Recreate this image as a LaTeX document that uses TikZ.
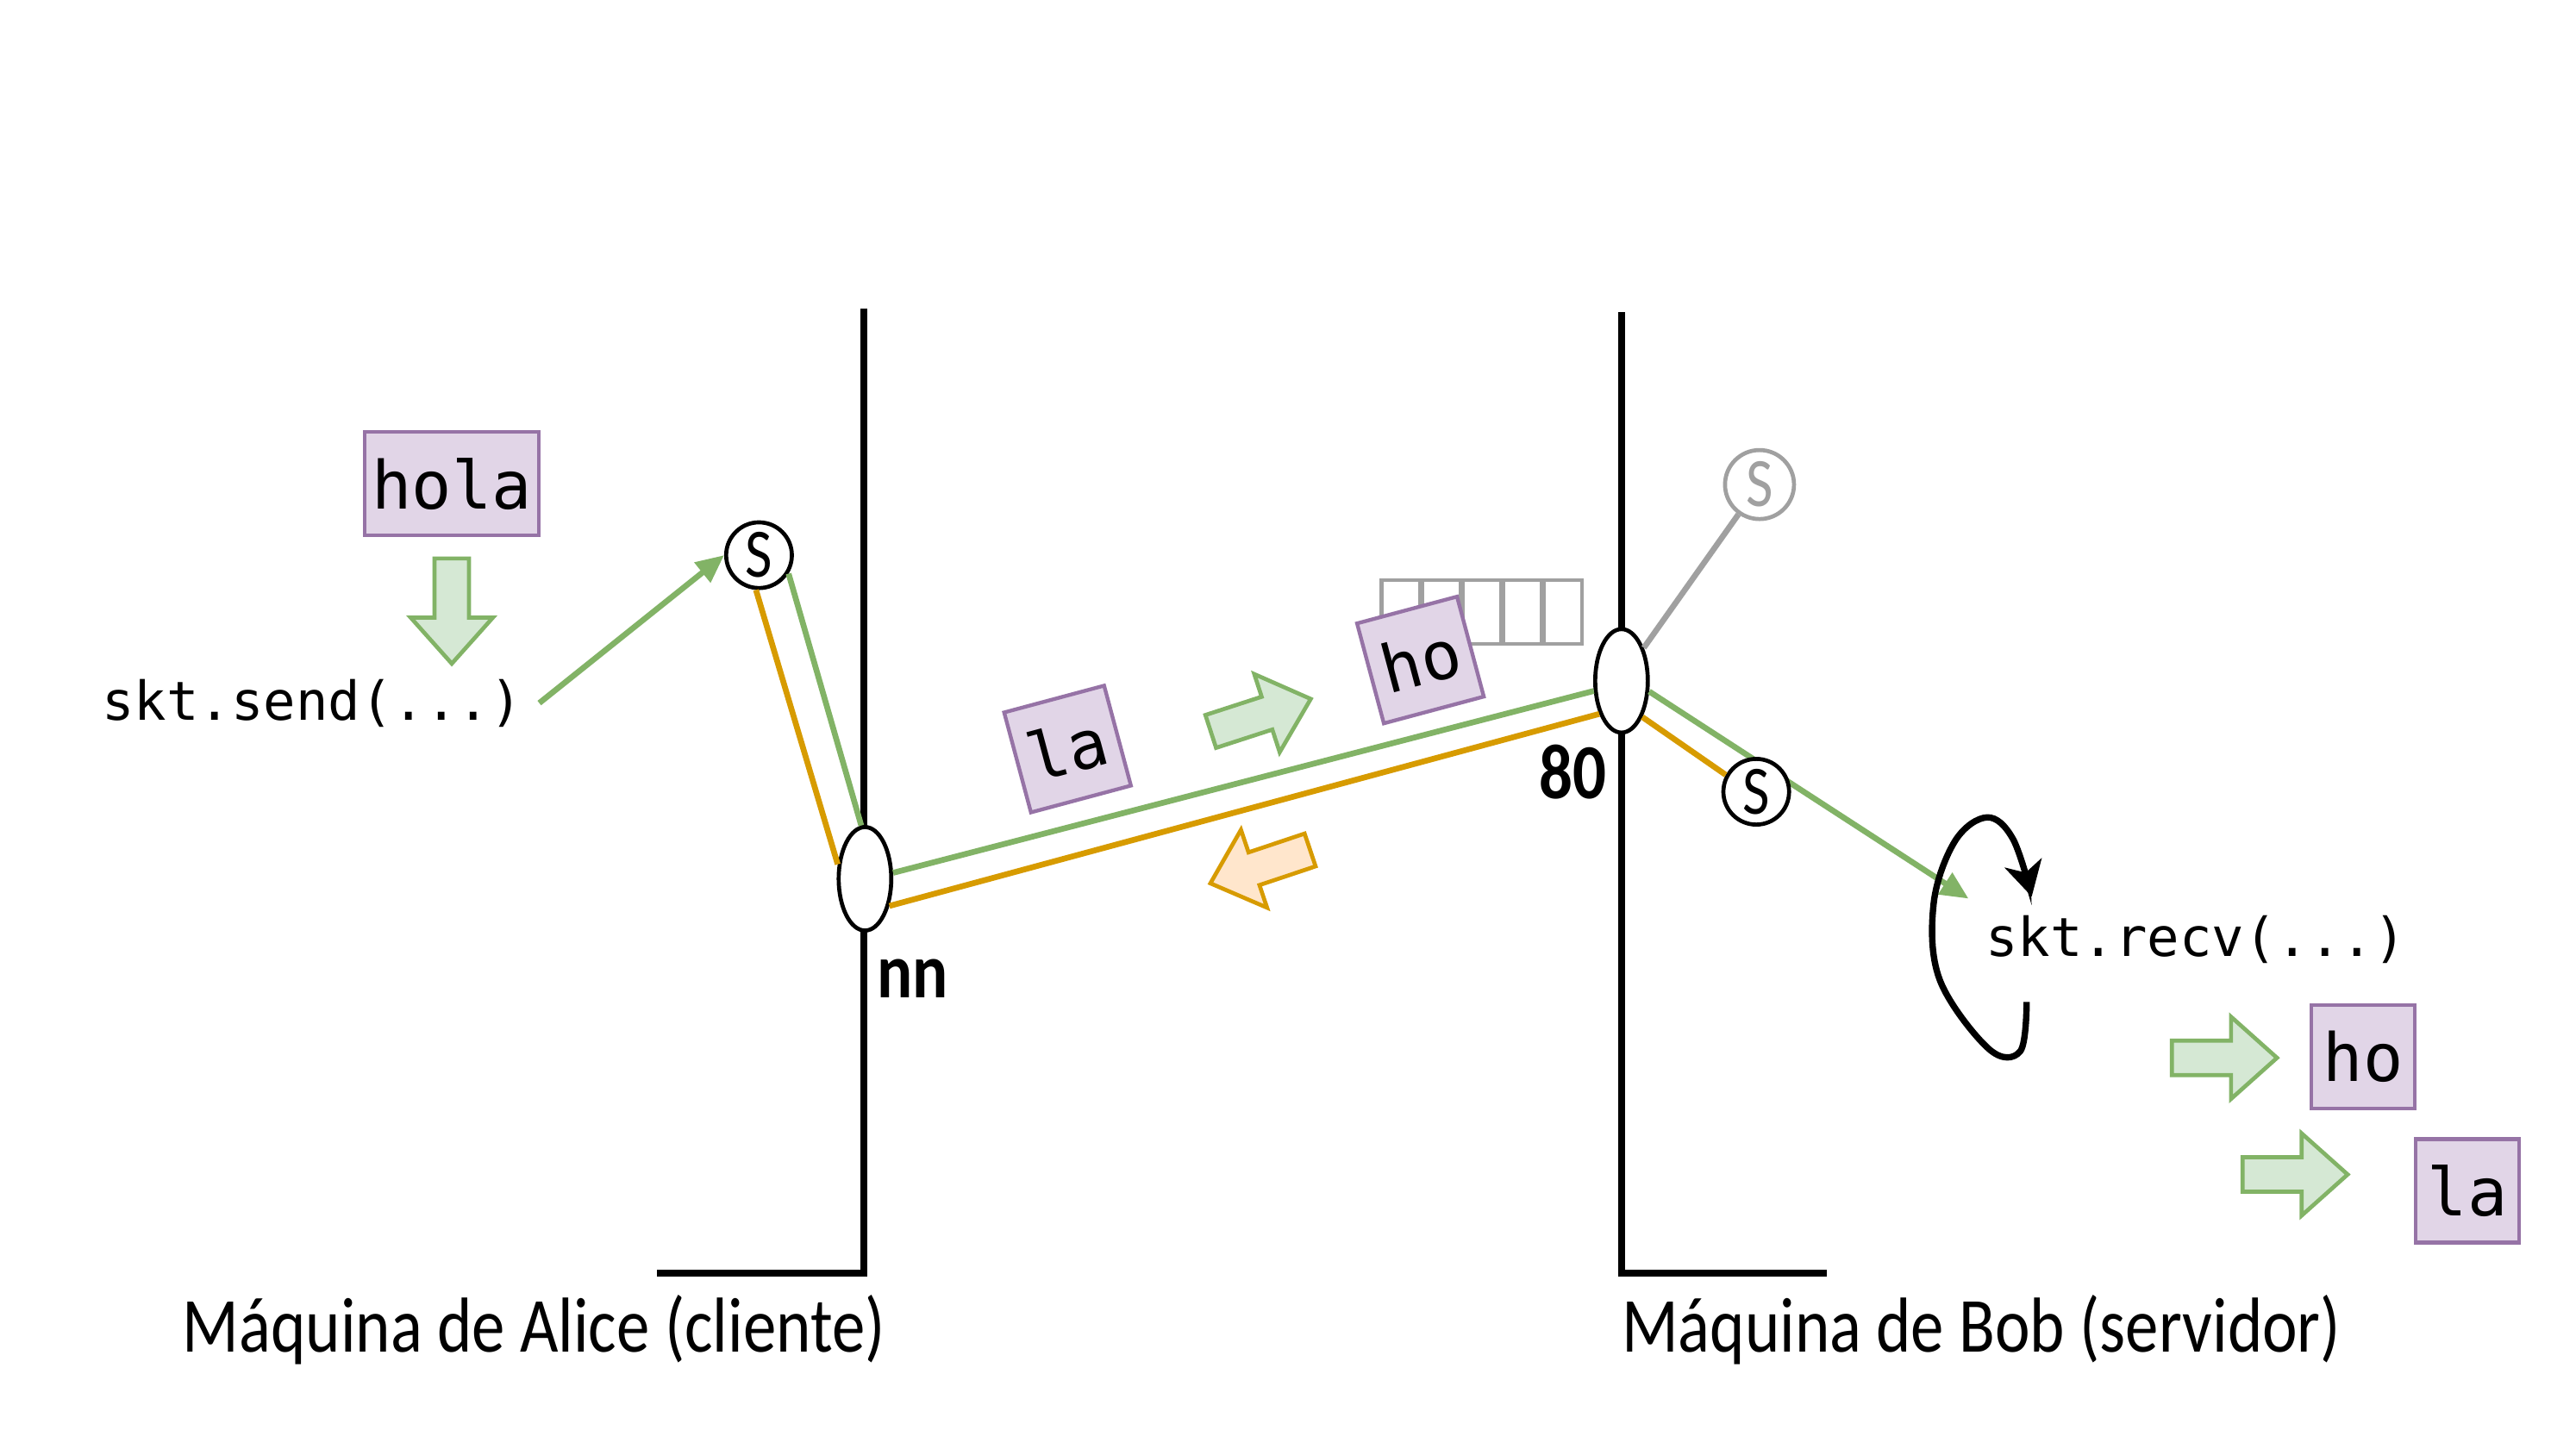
\documentclass[tikz,border=0pt]{standalone}
\usepackage{fontspec}
\usepackage{xcolor}
\usepackage{tikz}
\usetikzlibrary{arrows.meta,positioning,shapes.geometric}
\setmainfont{Carlito}
\newfontfamily\handfont[FakeStretch=0.85]{Carlito}
\newfontfamily\codefont{DejaVu Sans Mono}

\definecolor{sgreen}{HTML}{82B366}
\definecolor{fgreen}{HTML}{D5E8D4}
\definecolor{sorange}{HTML}{D79B00}
\definecolor{forange}{HTML}{FFE6CC}
\definecolor{spurple}{HTML}{9673A6}
\definecolor{fpurple}{HTML}{E1D5E7}
\definecolor{sgray}{HTML}{A0A0A0}

\begin{document}
\begin{tikzpicture}[
    x=0.2mm, y=-0.2mm,
    machine/.style={line width=2.4pt, line join=miter},
    caption/.style={font=\handfont\fontsize{27}{30}\selectfont, inner sep=0pt},
    port/.style={font=\handfont\bfseries\fontsize{27}{30}\selectfont, inner sep=0pt},
    code/.style={font=\codefont\fontsize{18.6}{22}\selectfont, inner sep=2mm},
    msg/.style={draw=spurple, fill=fpurple, line width=1.3pt, minimum width=12.6mm, minimum height=12.6mm, inner sep=0pt, font=\codefont\fontsize{23}{27}\selectfont},
    sock/.style={circle, draw, fill=white, line width=1.4pt, minimum size=8mm, inner sep=0pt, font=\handfont\fontsize{24}{26}\selectfont},
    hole/.style={ellipse, draw, fill=white, line width=1.4pt, minimum width=6.4mm, minimum height=12.6mm, inner sep=0pt},
    tofu/.style={draw=sgray, line width=1.3pt},
    gline/.style={draw=sgreen, line width=2pt},
    oline/.style={draw=sorange, line width=2pt},
    garrow/.style={gline, -{Triangle[length=3.4mm,width=3mm]}},
    garr/.style={draw=sgreen, fill=fgreen, line width=1.4pt, line join=miter},
    oarr/.style={draw=sorange, fill=forange, line width=1.4pt, line join=miter},
    blockarr/.pic={\draw[#1] (-32,-10.5) -- (4,-10.5) -- (4,-25) -- (32,0) -- (4,25) -- (4,10.5) -- (-32,10.5) -- cycle;},
]

\path[fill=white] (0,0) rectangle (1568,882);

% Machines
\draw[machine] (526,188) -- (526,775) -- (400,775);
\draw[machine] (987,190) -- (987,775) -- (1112,775);
\node[caption, anchor=base] (alice) at (325,823) {Máquina de Alice (cliente)};
\node[caption, anchor=base] (bob) at (1206,823) {Máquina de Bob (servidor)};

% Client side
\node[msg, minimum width=21.2mm] (hola) at (275,294.5) {hola};
\pic[rotate=-90] at (275,372) {blockarr=garr};
\node[code] (send) at (190,428) {skt.send(...)};
\node[sock] (s1) at (462,338) {S};
\node[hole] (cli) at (526.5,535) {};
\node[port, below right=3.2mm and 1.4mm of cli.south] (nn) {nn};

% Server side
\node[hole] (srv) at (987,414.5) {};
\node[port, below left=1.2mm and 1.8mm of srv.south] (p80) {80};
\node[sock, draw=sgray, text=sgray, minimum size=8.4mm] (sg) at (1071,295) {S};
\node[code] (recv) at (1336.5,572) {skt.recv(...)};

% Data on the wire
\foreach \i in {0,...,4}
    \draw[tofu] (841+24.66*\i,353) rectangle ++(23.2,39);
\node[msg, rotate=15] (la1) at (649.8,456) {la};
\node[msg, rotate=15] (ho1) at (864.6,401.8) {ho};
\pic[rotate=18] at (767.4,435.4) {blockarr=garr};
\pic[rotate=198.5] at (767.1,527.6) {blockarr=oarr};

% Received pieces
\pic at (1354,644) {blockarr=garr};
\node[msg] (ho2) at (1438.5,643.5) {ho};
\pic at (1397,715) {blockarr=garr};
\node[msg] (la2) at (1502,725) {la};

% Connections
\draw[garrow] (send.east) -- (s1.west);
\draw[oline] (s1.-95) -- (cli.152);
\draw[gline] (s1.-32) -- (cli.94);
\draw[gline] (cli.12) -- (srv.-160);
\draw[oline] (cli.-48) -- (srv.-124);
\draw[draw=sgray, line width=2pt] (srv.56) -- (sg);
\draw[garrow] (srv.-21) -- (recv.north west);
\node[sock] (s2) at (1069,482) {S};
\draw[oline] (srv.-60) -- (s2.151);

% recv loop
\draw[line width=2.2pt, -{Stealth[length=4.2mm,width=4.6mm,inset=1.2mm]}]
    plot[smooth, tension=0.6] coordinates {(1233.6,610) (1229.7,640) (1210.5,638.5) (1180.7,596.5) (1177,550) (1190,512) (1209.6,497.6) (1225.3,510.8) (1236.7,545.8)};

\end{tikzpicture}
\end{document}
